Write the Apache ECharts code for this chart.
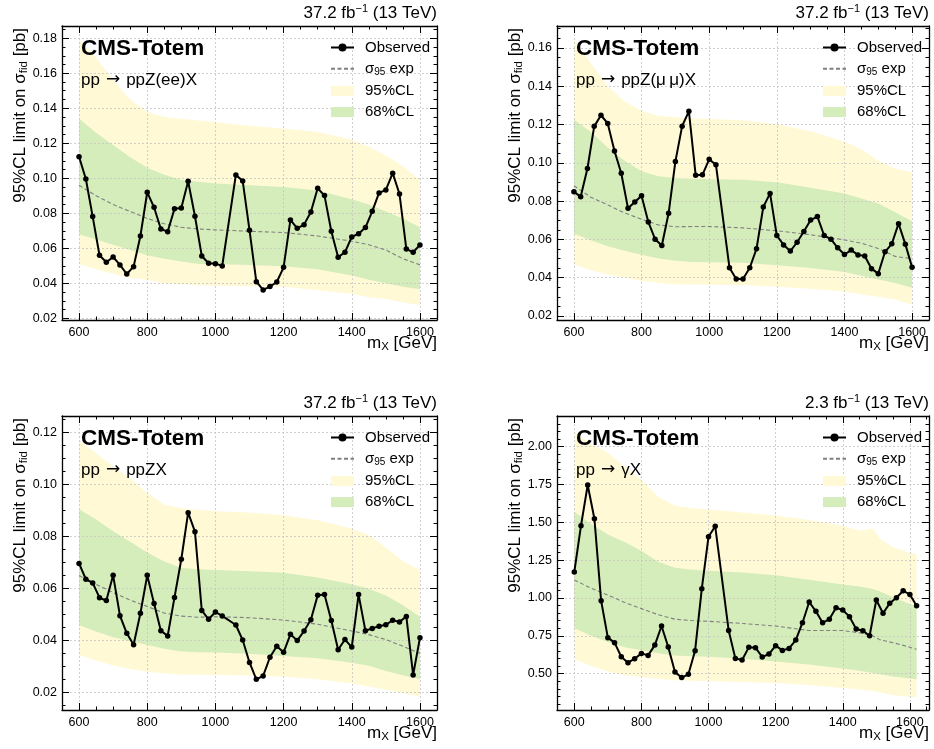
<!DOCTYPE html>
<html>
<head>
<meta charset="utf-8">
<script src="https://cdn.jsdelivr.net/npm/echarts@6/dist/echarts.min.js"></script>
<style>
  html, body { margin: 0; padding: 0; background: #fff; }
  #chart { width: 934px; height: 749px; }
</style>
</head>
<body>
<div id="chart"></div>
<script>
// Mass points of the observed limits (GeV); no point at 1040 GeV
const massZ = [600, 620, 640, 660, 680, 700, 720, 740, 760, 780, 800, 820, 840, 860, 880, 900, 920, 940, 960, 980, 1000, 1020,
  1060, 1080, 1100, 1120, 1140, 1160, 1180, 1200, 1220, 1240, 1260, 1280, 1300, 1320, 1340, 1360, 1380, 1400, 1420, 1440, 1460,
  1480, 1500, 1520, 1540, 1560, 1580, 1600];
const massGamma = [600, 620, 640, 660, 680, 700, 720, 740, 760, 780, 800, 820, 840, 860, 880, 900, 920, 940, 960, 980, 1000, 1020,
  1060, 1080, 1100, 1120, 1140, 1160, 1180, 1200, 1220, 1240, 1260, 1280, 1300, 1320, 1340, 1360, 1380, 1400, 1420, 1440, 1460,
  1480, 1500, 1520, 1540, 1560, 1580, 1600, 1620];

// Mass points of the expected limit and its bands
const massBand = [600, 650, 700, 750, 800, 850, 900, 950, 1000, 1100, 1200, 1300, 1400, 1450, 1500, 1550, 1600];
const massBandGamma = [600, 650, 700, 750, 800, 850, 900, 950, 1000, 1100, 1200, 1300, 1400, 1450, 1490, 1510, 1550, 1600, 1620];

// pp -> ppZ(ee)X  [pb]
const obsZee = [0.1123, 0.0996, 0.0781, 0.056, 0.052, 0.055, 0.0505, 0.0453, 0.0495, 0.067, 0.092, 0.0834, 0.071, 0.0695, 0.0826,
  0.083, 0.0983, 0.0783, 0.0556, 0.0514, 0.0512, 0.0499,
  0.1019, 0.0985, 0.0703, 0.0409, 0.0362, 0.0381, 0.0407, 0.0491, 0.0762, 0.0714, 0.0735, 0.0807, 0.0943, 0.0901, 0.0697, 0.0549,
  0.0577, 0.0665, 0.0683, 0.0718, 0.0811, 0.0916, 0.0933, 0.1029, 0.091, 0.0596, 0.0577, 0.0619];
const expZee  = [0.096, 0.090, 0.085, 0.081, 0.077, 0.074, 0.072, 0.071, 0.0705, 0.0697, 0.069, 0.067, 0.064, 0.062, 0.059, 0.054, 0.0505];
const lo68Zee = [0.068, 0.065, 0.062, 0.059, 0.056, 0.054, 0.0525, 0.051, 0.051, 0.0505, 0.0497, 0.048, 0.0445, 0.042, 0.040, 0.038, 0.0366];
const hi68Zee = [0.134, 0.126, 0.119, 0.112, 0.106, 0.102, 0.099, 0.098, 0.097, 0.096, 0.095, 0.093, 0.088, 0.085, 0.081, 0.077, 0.072];
const lo95Zee = [0.051, 0.048, 0.0455, 0.043, 0.042, 0.040, 0.0394, 0.0388, 0.0386, 0.0383, 0.038, 0.036, 0.034, 0.032, 0.031, 0.029, 0.0276];
const hi95Zee = [0.1795, 0.169, 0.156, 0.145, 0.138, 0.135, 0.134, 0.133, 0.132, 0.130, 0.1285, 0.1265, 0.122, 0.118, 0.113, 0.107, 0.099];

// pp -> ppZ(mumu)X  [pb]
const obsZmm = [0.0848, 0.0823, 0.097, 0.119, 0.1248, 0.1205, 0.1061, 0.0945, 0.0762, 0.0795, 0.0828, 0.0691, 0.0601, 0.0568, 0.0736,
  0.1006, 0.1191, 0.1269, 0.0935, 0.0937, 0.1018, 0.0989,
  0.0452, 0.0393, 0.0393, 0.0452, 0.0551, 0.0769, 0.084, 0.062, 0.0571, 0.0539, 0.0585, 0.0641, 0.0701, 0.0719, 0.062, 0.0601,
  0.0556, 0.0521, 0.0544, 0.0519, 0.0513, 0.0447, 0.0421, 0.0535, 0.0577, 0.0682, 0.0575, 0.0454];
const expZmm  = [0.088, 0.082, 0.078, 0.0738, 0.0705, 0.0675, 0.0666, 0.0667, 0.0667, 0.066, 0.0645, 0.0624, 0.0597, 0.058, 0.0552, 0.0511, 0.0499];
const lo68Zmm = [0.0629, 0.0595, 0.0564, 0.054, 0.052, 0.050, 0.0488, 0.0482, 0.048, 0.0478, 0.0465, 0.045, 0.043, 0.041, 0.039, 0.0372, 0.0348];
const hi68Zmm = [0.1226, 0.116, 0.108, 0.101, 0.0955, 0.093, 0.092, 0.0916, 0.0914, 0.0911, 0.0898, 0.087, 0.084, 0.0813, 0.0787, 0.0742, 0.0694];
const lo95Zmm = [0.0469, 0.044, 0.0417, 0.040, 0.0384, 0.0372, 0.0366, 0.0364, 0.0363, 0.0362, 0.0352, 0.0342, 0.0326, 0.0313, 0.030, 0.0286, 0.0258];
const hi95Zmm = [0.164, 0.152, 0.140, 0.132, 0.127, 0.1245, 0.1238, 0.1232, 0.1228, 0.1222, 0.1201, 0.1165, 0.111, 0.107, 0.101, 0.097, 0.095];

// pp -> ppZX  [pb]
const obsZ = [0.0696, 0.0635, 0.0621, 0.0564, 0.0553, 0.065, 0.0495, 0.0427, 0.0383, 0.0504, 0.065, 0.0542, 0.0437, 0.0417, 0.0565,
  0.0712, 0.0891, 0.0818, 0.0515, 0.0481, 0.0509, 0.0494,
  0.0459, 0.0401, 0.0315, 0.025, 0.0263, 0.0335, 0.0377, 0.0354, 0.0423, 0.0399, 0.0436, 0.0479, 0.0573, 0.0576, 0.0476, 0.0364,
  0.0403, 0.0374, 0.0576, 0.0437, 0.0446, 0.0454, 0.046, 0.0477, 0.0471, 0.0492, 0.0267, 0.041];
const expZ  = [0.0649, 0.0615, 0.0584, 0.0555, 0.053, 0.0505, 0.0493, 0.0489, 0.0491, 0.0487, 0.0478, 0.0462, 0.0436, 0.0422, 0.0403, 0.0377, 0.035];
const lo68Z = [0.0459, 0.0434, 0.0412, 0.0396, 0.0382, 0.0368, 0.0357, 0.0354, 0.0353, 0.0348, 0.034, 0.0331, 0.0314, 0.0302, 0.0282, 0.0266, 0.025];
const hi68Z = [0.0904, 0.0865, 0.082, 0.0779, 0.0738, 0.0703, 0.0678, 0.0673, 0.0671, 0.0666, 0.066, 0.0642, 0.0616, 0.0598, 0.0572, 0.0535, 0.0491];
const lo95Z = [0.0344, 0.0322, 0.0303, 0.029, 0.0279, 0.0273, 0.0269, 0.0268, 0.0267, 0.0265, 0.026, 0.025, 0.0234, 0.0222, 0.021, 0.0197, 0.0183];
const hi95Z = [0.117, 0.112, 0.107, 0.1023, 0.0968, 0.0922, 0.0908, 0.0902, 0.0897, 0.0892, 0.0881, 0.0862, 0.083, 0.0805, 0.0757, 0.0705, 0.0671];

// pp -> gammaX  [pb]
const obsGamma = [1.172, 1.478, 1.747, 1.524, 0.982, 0.738, 0.705, 0.612, 0.573, 0.599, 0.634, 0.621, 0.689, 0.815, 0.676, 0.511,
  0.474, 0.496, 0.652, 1.062, 1.405, 1.474,
  0.786, 0.601, 0.59, 0.674, 0.672, 0.61, 0.63, 0.685, 0.654, 0.667, 0.722, 0.837, 0.974, 0.912, 0.837, 0.859, 0.936, 0.921,
  0.877, 0.795, 0.784, 0.751, 0.987, 0.899, 0.965, 1.002, 1.048, 1.024, 0.949];
const expGamma  = [1.119, 1.065, 1.02, 0.97, 0.93, 0.89, 0.86, 0.851, 0.846, 0.832, 0.815, 0.785, 0.785, 0.77, 0.75, 0.725, 0.705, 0.675, 0.661];
const lo68Gamma = [0.80, 0.75, 0.71, 0.675, 0.655, 0.635, 0.62, 0.615, 0.612, 0.598, 0.58, 0.56, 0.535, 0.52, 0.505, 0.497, 0.482, 0.468, 0.463];
const hi68Gamma = [1.57, 1.49, 1.42, 1.37, 1.31, 1.24, 1.20, 1.187, 1.181, 1.168, 1.15, 1.12, 1.09, 1.077, 1.06, 1.045, 1.005, 0.96, 0.943];
const lo95Gamma = [0.595, 0.55, 0.515, 0.49, 0.478, 0.465, 0.456, 0.453, 0.452, 0.445, 0.438, 0.425, 0.405, 0.395, 0.386, 0.377, 0.357, 0.348, 0.344];
const hi95Gamma = [2.10, 2.02, 1.96, 1.87, 1.78, 1.67, 1.61, 1.595, 1.585, 1.565, 1.545, 1.515, 1.478, 1.445, 1.46, 1.395, 1.335, 1.30, 1.291];

// Panel texts
const lumiLabels = ['37.2', '37.2', '37.2', '2.3'];
const processLabels = [['pp', 'ppZ(ee)X'], ['pp', 'ppZ(\u03bc\u2009\u03bc)X'], ['pp', 'ppZX'], ['pp', '\u03b3X']];

const FONT = '"Liberation Sans", Arial, Helvetica, sans-serif';
const YELLOW = '#fff9d6';
const GREEN = '#d5ecbb';
const GRIDLINE = '#c4c4c4';
const EXP_NAME = '\u03c395 exp';

const panels = [
  { rect: { left: 62, top: 26, width: 375, height: 294 }, x: [550, 1650], y: [0.019, 0.187], yStep: 0.02, yMinor: 4, dec: 2,
    mass: massZ, obs: obsZee, band: massBand, exp: expZee, lo68: lo68Zee, hi68: hi68Zee, lo95: lo95Zee, hi95: hi95Zee },
  { rect: { left: 557, top: 26, width: 372, height: 294 }, x: [550, 1650], y: [0.0179, 0.1714], yStep: 0.02, yMinor: 4, dec: 2,
    mass: massZ, obs: obsZmm, band: massBand, exp: expZmm, lo68: lo68Zmm, hi68: hi68Zmm, lo95: lo95Zmm, hi95: hi95Zmm },
  { rect: { left: 62, top: 416, width: 375, height: 294 }, x: [550, 1650], y: [0.0132, 0.1263], yStep: 0.02, yMinor: 4, dec: 2,
    mass: massZ, obs: obsZ, band: massBand, exp: expZ, lo68: lo68Z, hi68: hi68Z, lo95: lo95Z, hi95: hi95Z },
  { rect: { left: 557, top: 416, width: 372, height: 294 }, x: [548.5, 1657], y: [0.26, 2.203], yStep: 0.25, yMinor: 5, dec: 2,
    mass: massGamma, obs: obsGamma, band: massBandGamma, exp: expGamma, lo68: lo68Gamma, hi68: hi68Gamma, lo95: lo95Gamma, hi95: hi95Gamma }
];

const pairs = (xs, ys) => xs.map((x, i) => [x, ys[i]]);
const onStep = (v, step) => Math.abs(v / step - Math.round(v / step)) < 1e-6;

// Filled band between lo and hi, drawn as one polygon through the grid's scales
function bandSeries(name, xs, lo, hi, color, z, ax) {
  return Object.assign({
    type: 'custom', name: name, silent: true, z: z,
    itemStyle: { color: color },
    data: xs.map((x, k) => [x, lo[k], hi[k]]),
    encode: { x: 0, y: [1, 2] },
    renderItem: (params, api) => {
      if (params.dataIndex !== 0) return null;
      const upper = xs.map((x, k) => api.coord([x, hi[k]]));
      const lower = xs.map((x, k) => api.coord([x, lo[k]])).reverse();
      return { type: 'polygon', shape: { points: upper.concat(lower) }, style: { fill: color, stroke: null } };
    }
  }, ax);
}

const grids = [], xAxes = [], yAxes = [], series = [], legends = [], graphics = [];

const frameLine = { show: true, onZero: false, lineStyle: { color: '#000', width: 1.3 } };
const txt = (size, extra) => Object.assign({ fontSize: size, fontFamily: FONT, fill: '#000', color: '#000' }, extra || {});

panels.forEach((p, i) => {
  grids.push(Object.assign({ containLabel: false }, p.rect));

  const xCommon = {
    type: 'value', gridIndex: i, min: p.x[0], max: p.x[1], minInterval: 200, maxInterval: 200,
    axisLine: frameLine, z: 3,
    axisTick: { show: true, inside: true, length: 7, lineStyle: { color: '#000', width: 1 } },
    minorTick: { show: true, splitNumber: 4, length: 3.5, lineStyle: { color: '#000', width: 1 } }
  };
  xAxes.push(Object.assign({}, xCommon, {
    position: 'bottom',
    axisLabel: { show: true, color: '#000', fontSize: 12.5, fontFamily: FONT, margin: 6,
      formatter: v => (onStep(v, 200) ? String(Math.round(v)) : '') },
    splitLine: { show: true, lineStyle: { color: GRIDLINE, width: 0.8, type: [2, 2] } }
  }));
  xAxes.push(Object.assign({}, xCommon, {
    position: 'top', axisLabel: { show: false }, splitLine: { show: false }
  }));

  const yCommon = {
    type: 'value', gridIndex: i, min: p.y[0], max: p.y[1], minInterval: p.yStep, maxInterval: p.yStep,
    axisLine: frameLine, z: 3,
    axisTick: { show: true, inside: true, length: 7, lineStyle: { color: '#000', width: 1 } },
    minorTick: { show: true, splitNumber: p.yMinor, length: 3.5, lineStyle: { color: '#000', width: 1 } }
  };
  yAxes.push(Object.assign({}, yCommon, {
    position: 'left',
    axisLabel: { show: true, color: '#000', fontSize: 12.5, fontFamily: FONT, margin: 5,
      formatter: v => (onStep(v, p.yStep) ? v.toFixed(p.dec) : '') },
    splitLine: { show: true, lineStyle: { color: GRIDLINE, width: 0.8, type: [2, 2] } }
  }));
  yAxes.push(Object.assign({}, yCommon, {
    position: 'right', axisLabel: { show: false }, splitLine: { show: false }
  }));

  const ax = { xAxisIndex: 2 * i, yAxisIndex: 2 * i };

  series.push(bandSeries('95%CL', p.band, p.lo95, p.hi95, YELLOW, 1, ax));
  series.push(bandSeries('68%CL', p.band, p.lo68, p.hi68, GREEN, 2, ax));
  // expected limit
  series.push(Object.assign({ type: 'line', name: EXP_NAME, symbol: 'none', silent: true, z: 4,
    data: pairs(p.band, p.exp),
    itemStyle: { color: '#808080' },
    lineStyle: { color: '#808080', width: 1.1, type: [4, 2.5] } }, ax));
  // observed limit
  series.push(Object.assign({ type: 'line', name: 'Observed', symbol: 'circle', symbolSize: 5.5, silent: true, z: 5,
    data: pairs(p.mass, p.obs),
    itemStyle: { color: '#000' },
    lineStyle: { color: '#000', width: 2 } }, ax));

  const right = p.rect.left + p.rect.width;
  legends.push({
    orient: 'vertical', left: right - 112, top: p.rect.top + 9,
    itemWidth: 23, itemHeight: 10, itemGap: 6.2, selectedMode: false,
    data: [
      { name: 'Observed' },
      { name: EXP_NAME, itemStyle: { opacity: 0 } },
      { name: '95%CL', icon: 'rect', itemStyle: { color: YELLOW } },
      { name: '68%CL', icon: 'rect', itemStyle: { color: GREEN } }
    ],
    formatter: n => (n === EXP_NAME ? '{t|\u03c3}{s|95}{t| exp}' : '{t|' + n + '}'),
    textStyle: {
      padding: [0, 0, 0, 6],
      rich: {
        t: { fontSize: 15, fontFamily: FONT, color: '#000', lineHeight: 17 },
        s: { fontSize: 10, fontFamily: FONT, color: '#000', lineHeight: 11, verticalAlign: 'bottom' }
      }
    }
  });

  // luminosity / energy label
  graphics.push({
    type: 'text', x: right, y: p.rect.top - 13, silent: true,
    style: {
      text: '{t|' + lumiLabels[i] + ' fb}{u|\u22121}{t| (13 TeV)}',
      align: 'right', textAlign: 'right', verticalAlign: 'middle', textVerticalAlign: 'middle',
      rich: { t: txt(17, { lineHeight: 19 }), u: txt(11, { lineHeight: 11, verticalAlign: 'top' }) }
    }
  });
  // experiment label
  graphics.push({
    type: 'text', x: p.rect.left + 19, y: p.rect.top + 23, silent: true, z: 10,
    style: { text: 'CMS-Totem', fill: '#000', fontSize: 22.5, fontWeight: 'bold', fontFamily: FONT,
      align: 'left', textAlign: 'left', verticalAlign: 'middle', textVerticalAlign: 'middle' }
  });
  // process label
  graphics.push({
    type: 'text', x: p.rect.left + 19, y: p.rect.top + 54, silent: true, z: 10,
    style: {
      text: '{t|' + processLabels[i][0] + '}{a|\u2192}{t|' + processLabels[i][1] + '}',
      align: 'left', textAlign: 'left', verticalAlign: 'middle', textVerticalAlign: 'middle',
      rich: {
        t: txt(17, { lineHeight: 19 }),
        a: txt(17, { lineHeight: 19, fontFamily: '"DejaVu Sans", sans-serif', padding: [0, 6, 0, 6] })
      }
    }
  });
  // x axis title
  graphics.push({
    type: 'text', x: right, y: p.rect.top + p.rect.height + 23, silent: true,
    style: {
      text: '{t|m}{s|X}{t| [GeV]}',
      align: 'right', textAlign: 'right', verticalAlign: 'middle', textVerticalAlign: 'middle',
      rich: { t: txt(17, { lineHeight: 19 }), s: txt(11.5, { lineHeight: 12, verticalAlign: 'bottom' }) }
    }
  });
  // y axis title
  graphics.push({
    type: 'text', x: p.rect.left - 42, y: p.rect.top + 2, rotation: Math.PI / 2, silent: true,
    style: {
      text: '{t|95%CL limit on \u03c3}{s|fid}{t| [pb]}',
      align: 'right', textAlign: 'right', verticalAlign: 'middle', textVerticalAlign: 'middle',
      rich: { t: txt(17, { lineHeight: 19 }), s: txt(11.5, { lineHeight: 12, verticalAlign: 'bottom' }) }
    }
  });
});

const chart = echarts.init(document.getElementById('chart'), null, { renderer: 'canvas' });
chart.setOption({
  animation: false,
  backgroundColor: '#fff',
  textStyle: { fontFamily: FONT },
  grid: grids,
  xAxis: xAxes,
  yAxis: yAxes,
  legend: legends,
  series: series,
  graphic: { elements: graphics }
});
</script>
</body>
</html>
